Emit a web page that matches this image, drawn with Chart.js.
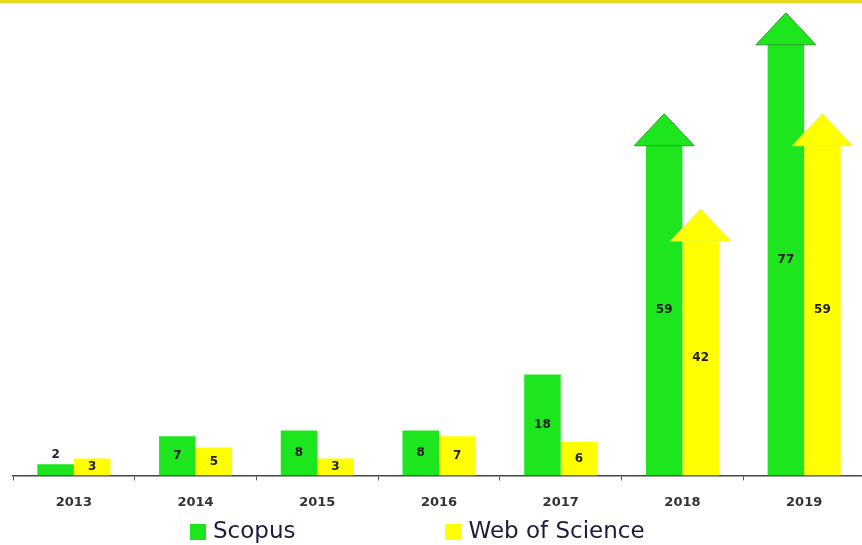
<!DOCTYPE html>
<html>
<head>
<meta charset="utf-8">
<script src="https://cdn.jsdelivr.net/npm/chart.js@4/dist/chart.umd.min.js"></script>
<style>
  html, body { margin: 0; padding: 0; background: #fff; overflow: hidden; }
  #wrap { position: relative; width: 866px; height: 545px; }
  #legend { position: absolute; left: 190px; top: 517px; display: flex; gap: 150px;
            font-family: "DejaVu Sans", sans-serif; font-size: 23px; color: #1c1c3c; }
  #legend .item { display: flex; align-items: center; white-space: nowrap; }
  #legend .box { width: 16px; height: 16px; margin-right: 7px; margin-top: 3px; }
</style>
</head>
<body>
<div id="wrap">
  <canvas id="pubChart"></canvas>
  <div id="legend"></div>
</div>
<script>
const years = ['2013', '2014', '2015', '2016', '2017', '2018', '2019'];
const scopus = [2, 7, 8, 8, 18, 59, 77];
const webOfScience = [3, 5, 3, 7, 6, 42, 59];
const arrowYears = ['2018', '2019'];

const green = '#1ee61e';
const yellow = '#ffff00';

// arrow heads on the big bars + value labels
const barExtras = {
  id: 'barExtras',
  beforeDraw(chart) {
    const ctx = chart.ctx;
    ctx.save();
    ctx.fillStyle = '#e6d81e';
    ctx.fillRect(0, 0, chart.width, 3);
    ctx.restore();
  },
  afterDatasetsDraw(chart) {
    const ctx = chart.ctx;
    ctx.save();
    chart.data.datasets.forEach((ds, i) => {
      const meta = chart.getDatasetMeta(i);
      meta.data.forEach((bar, j) => {
        if (!arrowYears.includes(chart.data.labels[j])) return;
        const w = 60, h = 31;
        ctx.beginPath();
        ctx.moveTo(bar.x - w / 2, bar.y + 1);
        ctx.lineTo(bar.x, bar.y - h);
        ctx.lineTo(bar.x + w / 2, bar.y + 1);
        ctx.closePath();
        ctx.fillStyle = ds.backgroundColor;
        ctx.fill();
        ctx.strokeStyle = ds.arrowEdge;
        ctx.lineWidth = 1;
        ctx.stroke();
      });
    });
    ctx.font = 'bold 12px "DejaVu Sans"';
    ctx.fillStyle = '#222';
    ctx.textAlign = 'center';
    ctx.textBaseline = 'middle';
    chart.data.datasets.forEach((ds, i) => {
      const meta = chart.getDatasetMeta(i);
      meta.data.forEach((bar, j) => {
        const hgt = bar.base - bar.y;
        const y = hgt < 14 ? bar.y - 9 : (bar.y + bar.base) / 2;
        ctx.fillText(String(ds.data[j]), bar.x, y);
      });
    });
    ctx.restore();
  }
};

const chart = new Chart(document.getElementById('pubChart'), {
  type: 'bar',
  data: {
    labels: years,
    datasets: [
      { label: 'Scopus', data: scopus, backgroundColor: green, arrowEdge: '#2f9a2f',
        categoryPercentage: 0.6, barPercentage: 1.0 },
      { label: 'Web of Science', data: webOfScience, backgroundColor: yellow, arrowEdge: '#f0f040',
        categoryPercentage: 0.6, barPercentage: 1.0 }
    ]
  },
  options: {
    responsive: true,
    maintainAspectRatio: false,
    animation: false,
    layout: { padding: { left: 13, right: 1, top: 27, bottom: 21 } },
    plugins: {
      legend: { display: false },
      tooltip: { enabled: false }
    },
    scales: {
      x: {
        grid: { display: true, drawOnChartArea: false, drawTicks: true, tickLength: 5, color: '#555' },
        border: { display: true, color: '#444', width: 1.5 },
        ticks: { color: '#333', padding: 14, font: { family: 'DejaVu Sans', size: 13, weight: 'bold' } }
      },
      y: { display: false, min: 0, max: 80 }
    }
  },
  plugins: [barExtras]
});

const legend = document.getElementById('legend');
chart.data.datasets.forEach(ds => {
  const item = document.createElement('div');
  item.className = 'item';
  const box = document.createElement('span');
  box.className = 'box';
  box.style.background = ds.backgroundColor;
  const txt = document.createElement('span');
  txt.textContent = ds.label;
  item.appendChild(box);
  item.appendChild(txt);
  legend.appendChild(item);
});
</script>
</body>
</html>
